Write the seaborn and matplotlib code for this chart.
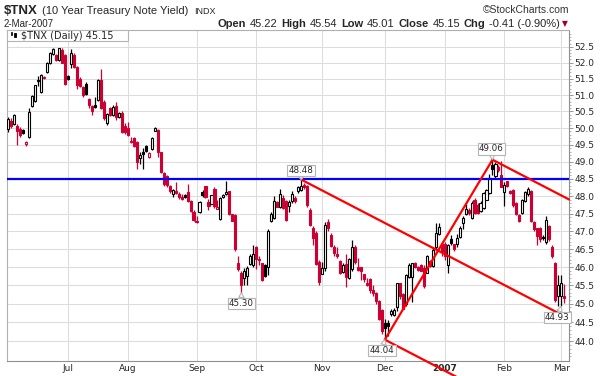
import numpy as np
import pandas as pd
import seaborn as sns
import matplotlib.pyplot as plt
from matplotlib.patches import Rectangle
from matplotlib.ticker import FixedLocator, FixedFormatter, NullFormatter

# $TNX daily candles, 5-Jun-2006 .. 2-Mar-2007
opens = [
    49.98, 50.22, 50.13, 50.06, 49.98, 49.95, 49.52, 49.72, 50.66, 50.83,  # Jun
    51.45, 51.10, 51.52, 51.70, 51.98, 52.26, 52.24, 52.08, 52.40, 52.24,
    51.60, 51.95, 52.24, 51.88, 51.50, 51.25, 51.35, 50.88, 50.68, 50.70,  # Jul
    50.85, 51.45, 50.80, 50.16, 50.60, 50.38, 50.68, 50.33, 50.45, 50.05,
    50.00, 49.61, 49.70, 49.58, 49.10, 49.30, 49.48, 49.13, 49.38, 49.91,  # Aug
    49.93, 49.28, 48.68, 48.58, 48.30, 48.05, 48.15, 48.05, 47.98, 48.04,
    48.13, 47.86, 47.55,
    47.30, 47.55, 48.13, 48.28, 47.83, 47.78, 48.20, 47.63, 47.35, 47.98,  # Sep
    48.05, 48.14, 47.48, 47.45, 46.12, 45.83, 45.70, 45.75, 46.08, 46.05,
    46.55, 46.23, 46.10, 46.05, 46.00, 47.28, 47.37, 47.83, 47.68, 47.95,  # Oct
    47.85, 47.72, 47.85, 47.95, 48.15, 48.18, 48.32, 48.30, 47.60, 47.10,
    46.95, 46.15,
    45.82, 45.98, 47.25, 46.90, 46.55, 46.36, 46.17, 45.87, 46.08, 45.70,  # Nov
    45.95, 46.57, 46.00, 46.00, 45.82, 45.55, 45.68, 45.37, 45.30, 45.06,
    44.82,
    44.48, 44.47, 44.72, 44.70, 44.92, 45.55, 45.25, 45.00, 45.72, 45.72,  # Dec
    46.12, 46.00, 46.06, 45.98, 45.85, 46.18, 46.03, 46.55, 46.93, 46.65,
    46.65, 46.05, 46.78, 46.63, 46.65, 46.85, 47.22, 47.48, 47.60, 47.38,  # Jan
    47.90, 47.75, 47.57, 47.65, 47.90, 48.10, 48.90, 48.57, 48.85, 48.62,
    48.12, 48.43, 48.15, 48.17, 47.80, 47.45, 47.53, 47.85, 48.05, 48.15,  # Feb
    47.25, 47.08, 47.10, 46.85, 46.70, 47.15, 46.57, 46.12, 45.20,
    45.22, 45.22,                                                          # Mar
]
highs = [
    50.33, 50.30, 50.43, 50.13, 50.02, 49.98, 49.60, 50.62, 51.00, 51.32,
    51.60, 51.65, 51.58, 52.02, 52.33, 52.45, 52.27, 52.47, 52.47, 52.27,
    51.62, 52.43, 52.30, 51.90, 51.55, 51.28, 51.40, 50.90, 50.70, 50.95,
    51.48, 51.80, 50.85, 50.45, 50.65, 50.70, 50.80, 50.48, 50.50, 50.15,
    50.17, 49.72, 49.72, 49.60, 49.28, 49.40, 49.50, 49.29, 49.72, 50.03,
    49.98, 49.30, 48.70, 48.62, 48.32, 48.20, 48.40, 48.12, 48.05, 48.06,
    48.35, 47.88, 47.60,
    47.43, 47.85, 48.17, 48.30, 47.92, 48.04, 48.25, 47.90, 47.97, 48.06,
    48.45, 48.16, 47.50, 47.50, 46.30, 45.88, 45.98, 46.03, 46.35, 46.60,
    46.58, 46.30, 46.12, 46.08, 47.05, 47.55, 48.00, 47.85, 48.22, 48.02,
    47.88, 47.90, 48.15, 48.00, 48.30, 48.48, 48.38, 48.33, 47.65, 47.15,
    47.00, 46.20,
    46.15, 47.25, 47.35, 46.95, 46.60, 46.55, 46.20, 46.10, 46.35, 46.25,
    46.75, 46.60, 46.25, 46.00, 45.82, 45.70, 45.70, 45.50, 45.32, 45.10,
    44.85,
    44.60, 44.55, 44.85, 44.88, 45.57, 45.57, 45.28, 45.80, 46.12, 46.12,
    46.14, 46.02, 46.08, 46.05, 46.33, 46.20, 46.55, 47.22, 47.22, 46.70,
    46.70, 46.65, 46.88, 46.65, 46.92, 47.15, 47.42, 47.78, 47.65, 47.85,
    47.95, 47.80, 47.85, 48.12, 48.22, 48.65, 49.06, 49.00, 48.90, 49.03,
    48.40, 48.45, 48.18, 48.20, 47.82, 47.48, 47.92, 48.15, 48.25, 48.18,
    47.28, 47.10, 47.12, 46.90, 47.43, 47.18, 46.60, 46.15, 45.78,
    45.78, 45.54,
]
lows = [
    49.88, 50.00, 50.08, 49.50, 49.72, 49.82, 49.47, 49.70, 50.63, 50.80,
    51.28, 51.05, 51.50, 51.67, 51.95, 52.25, 52.05, 52.05, 51.98, 51.30,
    51.45, 51.82, 51.82, 51.20, 51.25, 50.95, 51.00, 50.60, 50.40, 50.60,
    50.82, 50.58, 50.25, 50.10, 50.35, 50.35, 50.25, 50.30, 49.85, 49.82,
    49.77, 49.55, 49.45, 48.80, 48.93, 48.80, 49.30, 49.10, 49.35, 49.90,
    49.13, 48.68, 48.30, 48.25, 48.10, 47.98, 48.07, 47.93, 47.90, 47.95,
    47.82, 47.55, 47.30,
    47.22, 47.52, 47.98, 47.95, 47.60, 47.76, 47.65, 47.62, 47.33, 47.96,
    48.04, 47.45, 47.28, 46.45, 45.90, 45.30, 45.50, 45.50, 46.05, 46.00,
    45.95, 46.05, 45.62, 45.72, 45.78, 47.25, 47.35, 47.68, 47.65, 47.62,
    47.30, 47.55, 47.80, 47.80, 48.10, 48.15, 48.20, 47.70, 47.15, 46.60,
    46.05, 45.50,
    45.80, 45.90, 47.00, 46.55, 46.30, 46.25, 45.80, 45.85, 45.45, 45.68,
    45.90, 46.08, 45.88, 45.65, 45.60, 45.48, 45.30, 45.20, 45.00, 44.55,
    44.20,
    44.04, 44.15, 44.68, 44.68, 44.80, 45.12, 44.85, 44.95, 45.70, 45.05,
    45.98, 45.90, 45.88, 45.42, 45.83, 46.00, 46.00, 46.50, 46.90, 46.30,
    46.20, 45.85, 46.60, 46.45, 46.55, 46.80, 47.05, 47.45, 47.45, 47.35,
    47.50, 47.48, 47.55, 47.62, 47.88, 48.05, 48.60, 48.50, 48.70, 48.25,
    47.72, 48.25, 48.05, 47.70, 47.45, 47.25, 47.50, 47.82, 48.00, 47.25,
    47.02, 46.62, 46.70, 46.75, 46.65, 46.72, 46.25, 45.05, 44.95,
    44.93, 45.01,
]
closes = [
    50.26, 50.06, 50.40, 49.91, 49.78, 49.85, 49.58, 50.48, 50.98, 51.30,
    51.42, 51.62, 51.57, 51.98, 52.30, 52.43, 52.08, 52.45, 52.00, 51.35,
    51.50, 52.30, 51.88, 51.32, 51.28, 51.00, 51.02, 50.70, 50.50, 50.65,
    51.45, 50.60, 50.30, 50.43, 50.38, 50.65, 50.33, 50.45, 49.88, 49.87,
    49.80, 49.58, 49.48, 48.98, 49.20, 49.22, 49.33, 49.27, 49.70, 50.01,
    49.28, 48.70, 48.34, 48.32, 48.15, 48.17, 48.10, 47.98, 47.93, 47.98,
    47.86, 47.58, 47.32,
    47.25, 47.84, 48.02, 47.98, 47.72, 48.02, 47.73, 47.70, 47.95, 48.04,
    48.12, 47.50, 47.30, 46.50, 45.95, 45.52, 45.88, 45.98, 46.30, 46.35,
    46.22, 46.20, 45.65, 45.75, 47.02, 47.50, 47.85, 47.70, 48.07, 47.65,
    47.33, 47.83, 48.05, 47.85, 48.26, 48.30, 48.25, 47.75, 47.18, 46.80,
    46.08, 45.60,
    45.98, 47.18, 47.08, 46.58, 46.38, 46.31, 45.85, 46.05, 45.72, 46.22,
    46.55, 46.13, 45.92, 45.90, 45.67, 45.50, 45.37, 45.28, 45.06, 44.60,
    44.28,
    44.35, 44.40, 44.80, 44.83, 45.55, 45.20, 44.87, 45.78, 46.05, 46.10,
    46.01, 45.92, 45.90, 45.48, 46.30, 46.02, 46.48, 46.95, 47.13, 46.42,
    46.30, 46.60, 46.68, 46.50, 46.82, 47.10, 47.38, 47.64, 47.52, 47.80,
    47.53, 47.52, 47.80, 48.08, 48.17, 48.53, 48.80, 48.93, 48.75, 48.26,
    48.33, 48.30, 48.08, 47.75, 47.50, 47.30, 47.90, 48.13, 48.20, 47.30,
    47.05, 46.87, 46.77, 46.82, 47.33, 46.77, 46.30, 45.10, 45.50,
    45.56, 45.15,
]

holidays = ['2006-07-04', '2006-09-04', '2006-11-23', '2006-12-25',
            '2007-01-01', '2007-01-02', '2007-01-15', '2007-02-19']
dates = pd.bdate_range('2006-06-05', '2007-03-02', freq='C', holidays=holidays)

# hand drawn lines: (index, yield) end points
resist_level = 48.5
chan_top = ([98, 187.6], [48.48, 44.6])
up_line = ([126, 162], [44.04, 49.06])
callouts = [(98, 48.48, 0, 9), (78, 45.30, 0, -11), (126, 44.04, -3, -11),
            (162, 49.06, -1, 11), (185, 44.93, -4, -11)]

df = pd.DataFrame({'date': dates, 'open': opens, 'high': highs,
                   'low': lows, 'close': closes})
df['x'] = np.arange(len(df))

sns.set_theme(style='white')
plt.rcParams['font.family'] = ['DejaVu Sans']

RED = '#cc0033'
fig = plt.figure(figsize=(6, 3.76), dpi=100)
ax = fig.add_axes([7 / 600, 1 - 361 / 376, 562 / 600, 331 / 376])
ax.set_yscale('log')

prev = df['close'].shift(1).fillna(df['close'])
cols = np.where(df['close'] < prev, RED, 'black')
faces = np.where(df['close'] >= df['open'], 'white', cols)
ax.vlines(df['x'], df['low'], df['high'], colors=cols, lw=0.9, zorder=2)
ax.bar(df['x'], np.maximum((df['close'] - df['open']).abs(), 0.015),
       bottom=np.minimum(df['open'], df['close']), width=0.7,
       color=faces, edgecolor=cols, linewidth=0.8, zorder=3)

# trend lines
ax.axhline(resist_level, color='#0000ff', lw=1.6, zorder=5)
slope = np.log(chan_top[1][1] / chan_top[1][0]) / (chan_top[0][1] - chan_top[0][0])


def parallel(x0, y0, x1):
    return [x0, x1], [y0, y0 * np.exp(slope * (x1 - x0))]


for xs, ys in [chan_top, up_line,
               parallel(up_line[0][1], up_line[1][1], 187.6),
               parallel(up_line[0][0], up_line[1][0], 153)]:
    sns.lineplot(x=xs, y=ys, ax=ax, color='#ff0000', lw=1.6, zorder=6,
                 clip_on=False)

for xi, val, dx, dy in callouts:
    ax.annotate(f'{val:.2f}', xy=(xi, val), xytext=(dx, dy),
                textcoords='offset pixels', ha='center', va='center',
                fontsize=6.3, zorder=7, annotation_clip=False,
                bbox=dict(boxstyle='square,pad=0.15', fc='white', ec='#b5b5b5', lw=0.8),
                arrowprops=dict(arrowstyle='wedge,tail_width=0.6', fc='white',
                                ec='#b5b5b5', lw=0.8, shrinkA=0, shrinkB=0))

ax.set_xlim(-0.4, 187.6)
ax.set_ylim(43.48, 53.03)

# y axis on the right
yt = np.arange(44.0, 52.51, 0.5)
ax.yaxis.set_major_locator(FixedLocator(yt))
ax.yaxis.set_major_formatter(FixedFormatter([f'{v:.1f}' for v in yt]))
ax.yaxis.set_minor_locator(FixedLocator(np.arange(43.6, 53.0, 0.1)))
ax.yaxis.set_minor_formatter(NullFormatter())
ax.yaxis.tick_right()
ax.tick_params(axis='y', which='major', length=3, width=0.6, color='#888888',
               labelsize=6.5, pad=1)
ax.tick_params(axis='y', which='minor', length=1.2, width=0.5, color='#999999')

# month ticks
starts = [i for i in range(1, len(dates)) if dates[i].month != dates[i - 1].month]
labels = [str(dates[i].year) if dates[i].month == 1 else dates[i].strftime('%b')
          for i in starts]
ax.set_xticks(starts)
ax.set_xticklabels(labels)
for t in ax.get_xticklabels():
    if t.get_text().isdigit():
        t.set_fontweight('bold')
ax.tick_params(axis='x', which='major', length=0, labelsize=6.5, pad=2.5)
ax.set_xlabel('')
ax.set_ylabel('')

ax.grid(True, which='major', color='#dcdcdc', lw=0.75)
ax.set_axisbelow(True)
for side in ['top', 'left']:
    ax.spines[side].set_color('#b0b0b0')
    ax.spines[side].set_linewidth(0.8)
for side in ['bottom', 'right']:
    ax.spines[side].set_color('#909090')
    ax.spines[side].set_linewidth(0.8)
    ax.spines[side].set_linestyle((0, (1, 1)))

# legend tag in the top-left corner
ax.add_patch(Rectangle((0, 1 - 11 / 331), 121 / 562, 11 / 331, transform=ax.transAxes,
                       fc='white', ec='#b5b5b5', lw=0.8, zorder=8, clip_on=False))
for k, (b, t) in enumerate([(0.984, 0.994), (0.980, 0.990)]):
    x0 = (3.5 + 3.2 * k) / 562
    ax.add_patch(Rectangle((x0, b), 1.8 / 562, t - b, transform=ax.transAxes,
                           fc='white' if k == 0 else 'black', ec='black', lw=0.6, zorder=9))
ax.text(14 / 562, 1 - 5.8 / 331, f'$TNX (Daily) {closes[-1]:.2f}', transform=ax.transAxes,
        fontsize=7, va='center', ha='left', zorder=9)


# header
def px(x, y):
    return x / 600, 1 - y / 376


hdr = dict(family='Liberation Sans', va='baseline')
fig.text(*px(4, 14), '$TNX', fontsize=9.5, fontweight='bold', **hdr)
fig.text(*px(42, 14), '(10 Year Treasury Note Yield)', fontsize=8, **hdr)
fig.text(*px(194, 14), 'INDX', fontsize=6.5, **hdr)
fig.text(*px(569, 13), '\u00a9StockCharts.com', fontsize=7.5, color='#333333',
         ha='right', **hdr)
fig.text(*px(4, 27), '2-Mar-2007', fontsize=7, **hdr)

last = df.iloc[-1]
prev_close = df['close'].iloc[-2]
chg = last['close'] - prev_close
groups = [('Open', f"{last['open']:.2f}"), ('High', f"{last['high']:.2f}"),
          ('Low', f"{last['low']:.2f}"), ('Close', f"{last['close']:.2f}"),
          ('Chg', f"{chg:.2f} ({chg / prev_close * 100:.2f}%)")]

# lay the stats out left to right, then stretch group gaps to end at x=560
renderer = fig.canvas.get_renderer()
items = []
for name, val in groups:
    a = fig.text(0, 0, name, fontsize=8, fontweight='bold', **hdr)
    b = fig.text(0, 0, val, fontsize=8, **hdr)
    items.append((a, b))
widths = [(a.get_window_extent(renderer).width, b.get_window_extent(renderer).width)
          for a, b in items]
inner = 3.5
total = sum(wa + wb + inner for wa, wb in widths)
start, end = 218, 560
gap = (end - start - total) / (len(items) - 1)
x = start
for (a, b), (wa, wb) in zip(items, widths):
    a.set_position(px(x, 27))
    b.set_position(px(x + wa + inner, 27))
    x += wa + inner + wb + gap
fig.text(*px(562, 26), '\u25bc', fontsize=5.5, color='#990033', family='DejaVu Sans',
         va='baseline')

fig.savefig('out.png', dpi=100)
